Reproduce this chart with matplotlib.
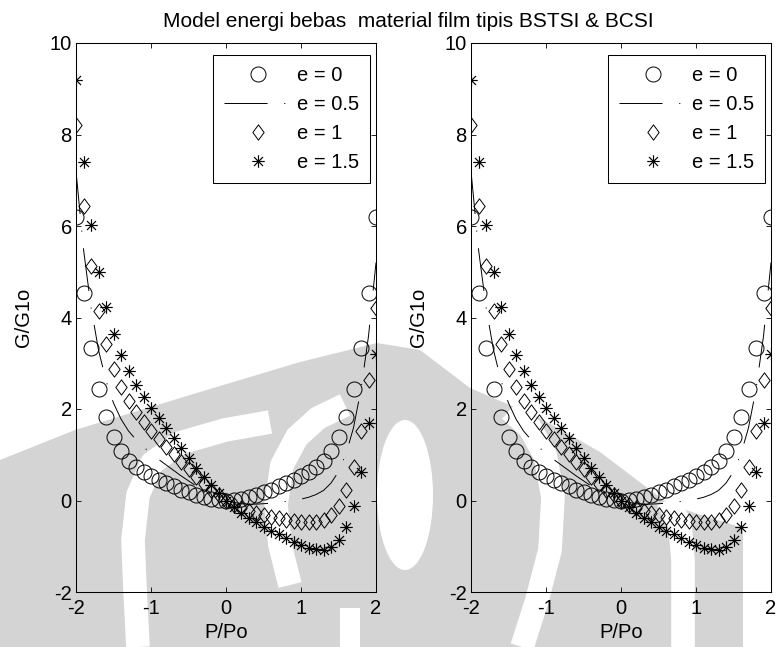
import matplotlib.pyplot as plt
import numpy as np
from matplotlib.path import Path
from matplotlib.patches import Ellipse, Polygon, Rectangle

plt.rcParams['font.family'] = ['Liberation Sans', 'DejaVu Sans']
plt.rcParams['lines.scale_dashes'] = False
plt.rcParams['axes.unicode_minus'] = False

# polarisation P/Po
p = [-2.0, -1.9, -1.8, -1.7, -1.6, -1.5, -1.4, -1.3, -1.2, -1.1, -1.0,
     -0.9, -0.8, -0.7, -0.6, -0.5, -0.4, -0.3, -0.2, -0.1, 0.0,
     0.1, 0.2, 0.3, 0.4, 0.5, 0.6, 0.7, 0.8, 0.9, 1.0,
     1.1, 1.2, 1.3, 1.4, 1.5, 1.6, 1.7, 1.8, 1.9, 2.0]

# free energy G/G1o for each field value e
g_e0 = [6.20, 4.54, 3.33, 2.44, 1.82, 1.38, 1.08, 0.87, 0.73, 0.62, 0.53,
        0.45, 0.38, 0.31, 0.24, 0.18, 0.12, 0.07, 0.03, 0.01, 0.00,
        0.01, 0.03, 0.07, 0.12, 0.18, 0.24, 0.31, 0.38, 0.45, 0.53,
        0.62, 0.73, 0.87, 1.08, 1.38, 1.82, 2.44, 3.33, 4.54, 6.20]
g_e05 = [7.20, 5.49, 4.23, 3.29, 2.62, 2.13, 1.78, 1.52, 1.33, 1.17, 1.03,
         0.90, 0.78, 0.66, 0.54, 0.43, 0.32, 0.22, 0.13, 0.06, 0.00,
         -0.04, -0.07, -0.08, -0.08, -0.07, -0.06, -0.04, -0.02, 0.00, 0.03,
         0.07, 0.13, 0.22, 0.38, 0.63, 1.02, 1.59, 2.43, 3.59, 5.20]
g_e1 = [8.20, 6.44, 5.13, 4.14, 3.42, 2.88, 2.48, 2.17, 1.93, 1.72, 1.53,
        1.35, 1.18, 1.01, 0.84, 0.68, 0.52, 0.37, 0.23, 0.11, 0.00,
        -0.09, -0.17, -0.23, -0.28, -0.32, -0.36, -0.39, -0.42, -0.45, -0.47,
        -0.48, -0.47, -0.43, -0.32, -0.12, 0.22, 0.74, 1.53, 2.64, 4.20]
g_e15 = [9.20, 7.39, 6.03, 4.99, 4.22, 3.63, 3.18, 2.82, 2.53, 2.27, 2.03,
         1.80, 1.58, 1.36, 1.14, 0.93, 0.72, 0.52, 0.33, 0.16, 0.00,
         -0.14, -0.27, -0.38, -0.48, -0.57, -0.66, -0.74, -0.82, -0.90, -0.97,
         -1.03, -1.07, -1.08, -1.02, -0.87, -0.58, -0.11, 0.63, 1.69, 3.20]

labels = ['e = 0', 'e = 0.5', 'e = 1', 'e = 1.5']
xticks = [-2, -1, 0, 1, 2]
yticks = [-2, 0, 2, 4, 6, 8, 10]
title = 'Model energi bebas  material film tipis BSTSI & BCSI'

# asterisk = plus + cross, diamond a bit wider than matplotlib's 'd'
star = Path([(-0.5, 0), (0.5, 0), (0, -0.5), (0, 0.5),
             (-0.36, -0.36), (0.36, 0.36), (-0.36, 0.36), (0.36, -0.36)],
            [Path.MOVETO, Path.LINETO] * 4)
diamond = Path([(0, 0.5), (0.37, 0), (0, -0.5), (-0.37, 0), (0, 0.5)],
               [Path.MOVETO, Path.LINETO, Path.LINETO, Path.LINETO, Path.CLOSEPOLY])

fig = plt.figure(figsize=(7.77, 6.47), dpi=100)

# faint logo watermark behind both panels (pixel coordinates, y down)
bg = fig.add_axes([0, 0, 1, 1], zorder=-1)
bg.set_xlim(0, 777)
bg.set_ylim(647, 0)
bg.axis('off')
gray = '#d4d4d4'
outline = [(0, 460), (75, 430), (200, 392), (300, 362), (377, 343), (420, 350),
           (470, 388), (540, 418), (600, 452), (670, 505), (743, 528),
           (743, 647), (0, 647)]
bg.add_patch(Polygon(outline, closed=True, color=gray, lw=0))
bands = [
    [(138, 647), (135, 590), (133, 540), (138, 495), (152, 463), (180, 443),
     (225, 430), (270, 422)],
    [(290, 585), (280, 545), (276, 505), (282, 465), (297, 437), (318, 418),
     (345, 405)],
    [(522, 647), (537, 600), (550, 550), (553, 497), (545, 455), (530, 428),
     (510, 410)],
    [(683, 647), (683, 560), (680, 525), (668, 500)],
]
for b in bands:
    bx, by = zip(*b)
    bg.plot(bx, by, color='white', lw=17, solid_capstyle='butt', solid_joinstyle='round')
bg.add_patch(Ellipse((405, 495), 56, 150, color='white', lw=0))
bg.add_patch(Rectangle((340, 608), 20, 45, color='white', lw=0))


def draw_panel(ax):
    ax.set_facecolor('none')
    ax.plot(p, g_e0, ls='none', marker='o', ms=10.8, mfc='none', mec='black', mew=0.7,
            label=labels[0])
    ax.plot(p, g_e05, color='black', lw=0.7, dashes=(31, 12, 0.8, 12), label=labels[1])
    ax.plot(p, g_e1, ls='none', marker=diamond, ms=11, mfc='none', mec='black', mew=0.7,
            label=labels[2])
    ax.plot(p, g_e15, ls='none', marker=star, ms=9, mec='black', mew=0.85,
            label=labels[3])
    ax.set_xlim(-2, 2)
    ax.set_ylim(-2, 10)
    ax.set_xticks(xticks)
    ax.set_yticks(yticks)
    ax.tick_params(direction='in', top=True, right=True, length=3.6, width=0.6,
                   labelsize=14.5, pad=3)
    ax.tick_params(axis='x', pad=5)
    for s in ax.spines.values():
        s.set_linewidth(0.75)
    ax.set_xlabel('P/Po', fontsize=14.5, labelpad=4)
    ax.set_ylabel('G/G1o', fontsize=14.5, labelpad=12)
    leg = ax.legend(loc='upper right', bbox_to_anchor=(0.98, 0.978), borderaxespad=0,
                    fancybox=False, edgecolor='black', fontsize=14.5, numpoints=1,
                    handlelength=3.3, handletextpad=0.3, borderpad=0.55,
                    labelspacing=0.5, framealpha=1)
    leg.get_frame().set_linewidth(0.75)


ax1 = fig.add_axes([76 / 777, 55 / 647, 300 / 777, 549 / 647])
ax2 = fig.add_axes([471 / 777, 55 / 647, 300 / 777, 549 / 647])
draw_panel(ax1)
draw_panel(ax2)

fig.text(408 / 777, 1 - 27 / 647, title, ha='center', va='baseline', fontsize=15)

fig.savefig('out.png', dpi=100)
